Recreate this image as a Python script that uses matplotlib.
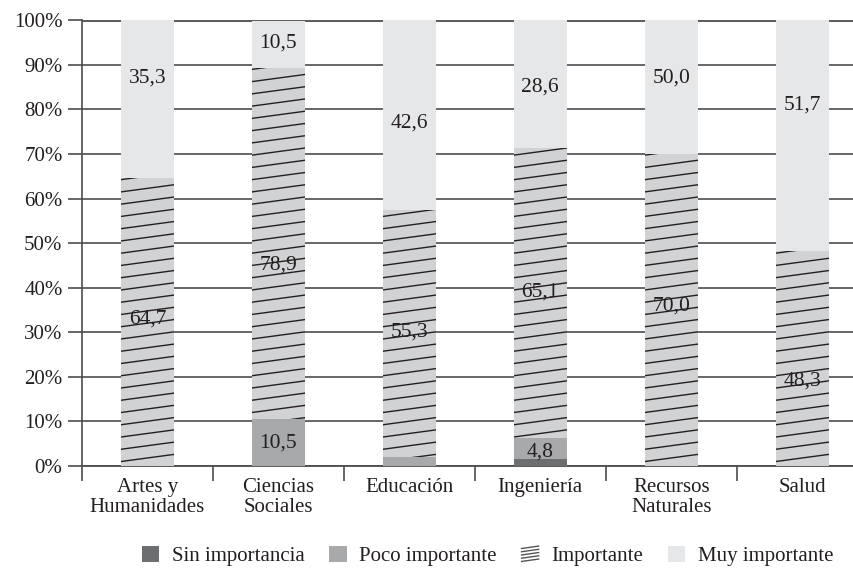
import numpy as np
import matplotlib.pyplot as plt
from matplotlib.patches import Patch
from matplotlib.lines import Line2D
from matplotlib.legend_handler import HandlerBase

categories = ["Artes y\nHumanidades", "Ciencias\nSociales", "Educación",
              "Ingeniería", "Recursos\nNaturales", "Salud"]
sin_importancia = [0.0, 0.0, 0.0, 1.5, 0.0, 0.0]
poco_importante = [0.0, 10.5, 2.1, 4.8, 0.0, 0.0]
importante = [64.7, 78.9, 55.3, 65.1, 70.0, 48.3]
muy_importante = [35.3, 10.5, 42.6, 28.6, 30.0, 51.7]

# texts printed on the segments (as in the original, Recursos shows 50,0)
poco_labels = ["", "10,5", "", "4,8", "", ""]
imp_labels = ["64,7", "78,9", "55,3", "65,1", "70,0", "48,3"]
muy_labels = ["35,3", "10,5", "42,6", "28,6", "50,0", "51,7"]

# vertical placement of the labels (percent)
poco_label_y = [0, 5.2, 0, 3.2, 0, 0]
imp_label_y = [33, 45, 30, 39, 36, 19]
muy_label_y = [87, 95, 77, 85, 87, 81]

plt.rcParams['font.family'] = ['Liberation Serif', 'DejaVu Serif']

c_text = '#231f20'
c_sin = '#6d6e70'
c_poco = '#a7a9ab'
c_imp = '#d1d2d4'
c_muy = '#e6e7e8'
c_grid = '#4d4d4f'


class SlantLines(HandlerBase):
    # legend key for "Importante": a few stacked, slightly rising lines
    def create_artists(self, legend, orig_handle, xdescent, ydescent,
                       width, height, fontsize, trans):
        arts = []
        for k in range(5):
            y = -ydescent + height * (k + 0.2) / 5
            ln = Line2D([-xdescent, -xdescent + width], [y, y + height * 0.15],
                        color='#555555', lw=1.0, transform=trans)
            arts.append(ln)
        return arts


fig = plt.figure(figsize=(8.54, 5.68), dpi=100)
# axis runs past the right edge, like the original
ax = fig.add_axes([0.096, 0.1796, 0.920, 0.7846])

x = np.arange(len(categories))
w = 0.405

sin = np.array(sin_importancia)
poco = np.array(poco_importante)
imp = np.array(importante)
muy = np.array(muy_importante)

ax.bar(x, sin, w, color=c_sin, zorder=3)
ax.bar(x, poco, w, bottom=sin, color=c_poco, zorder=3)
imp_bars = ax.bar(x, imp, w, bottom=sin + poco, color=c_imp, zorder=3)
ax.bar(x, muy, w, bottom=sin + poco + imp, color=c_muy, zorder=3)

# shallow diagonal hatch lines clipped to the "Importante" bars
rise = 1.6
step = 2.75
for b in imp_bars:
    x0 = b.get_x()
    x1 = x0 + b.get_width()
    for y0 in np.arange(-10, 110, step):
        ln = Line2D([x0, x1], [y0, y0 + rise], color=c_text, lw=1.0, zorder=4)
        ax.add_line(ln)
        ln.set_clip_path(b)

for i in range(len(categories)):
    if poco_labels[i]:
        ax.text(x[i], poco_label_y[i], poco_labels[i], ha='center', va='center',
                fontsize=15.5, color=c_text, zorder=5)
    ax.text(x[i], imp_label_y[i], imp_labels[i], ha='center', va='center',
            fontsize=15.5, color=c_text, zorder=5)
    ax.text(x[i], muy_label_y[i], muy_labels[i], ha='center', va='center',
            fontsize=15.5, color=c_text, zorder=5)

ax.set_xlim(-0.5, len(categories) - 0.5)
ax.set_ylim(0, 100)
ax.set_yticks(np.arange(0, 101, 10))
ax.set_yticklabels([f"{v}%" for v in range(0, 101, 10)], fontsize=15, color=c_text)
ax.yaxis.grid(True, color=c_grid, lw=1.2, zorder=0)
ax.axhline(100, color='#5d5e60', lw=2.2, zorder=2)

ax.set_xticks(x)
ax.set_xticklabels(categories, fontsize=15, color=c_text, linespacing=1.05)
ax.tick_params(axis='x', length=0, pad=9)
ax.set_xticks(np.arange(-0.5, len(categories), 1), minor=True)
ax.tick_params(axis='x', which='minor', length=11, width=1.2, color=c_grid)
ax.tick_params(axis='y', length=10, width=1.2, color=c_grid, pad=4)

for s in ['top', 'right']:
    ax.spines[s].set_visible(False)
ax.spines['left'].set_color(c_grid)
ax.spines['left'].set_linewidth(1.2)
ax.spines['bottom'].set_color(c_grid)
ax.spines['bottom'].set_linewidth(1.3)

imp_key = Patch(facecolor='white', edgecolor='none')
handles = [Patch(facecolor=c_sin, edgecolor='none'),
           Patch(facecolor=c_poco, edgecolor='none'),
           imp_key,
           Patch(facecolor=c_muy, edgecolor='none')]
labels = ["Sin importancia", "Poco importante", "Importante", "Muy importante"]
fig.legend(handles, labels, loc='center', bbox_to_anchor=(0.571, 0.021),
           ncol=4, frameon=False, fontsize=15, handlelength=0.82, handleheight=0.82,
           columnspacing=1.2, handletextpad=0.6, labelcolor=c_text,
           borderpad=0.2, handler_map={imp_key: SlantLines()})

plt.savefig("out.png", dpi=100)
